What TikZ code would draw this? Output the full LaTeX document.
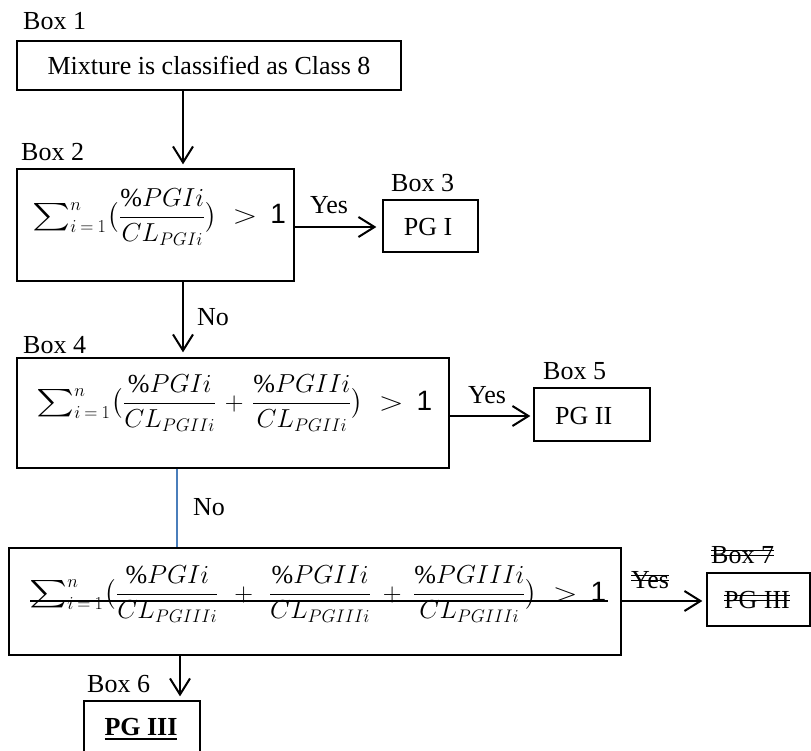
\RequirePackage{fix-cm}
\documentclass[tikz,border=0pt]{standalone}
\usepackage{amsmath}
\usepackage{graphicx}
\usepackage{fontspec}
\setmainfont{Liberation Serif}
\newfontfamily\arialf{Liberation Sans}
\usetikzlibrary{arrows.meta}
\definecolor{lnblue}{HTML}{4A7EBB}
\newsavebox\stkbox
\newcommand\dstk[1]{\sbox\stkbox{#1}\rlap{\rule[0.26em]{\wd\stkbox}{0.06em}}\rlap{\rule[0.45em]{\wd\stkbox}{0.06em}}\usebox\stkbox}
\newcommand\ulbold[1]{\sbox\stkbox{\bfseries #1}\rlap{\rule[-0.2em]{\wd\stkbox}{0.07em}}\usebox\stkbox}
\newcommand\bigsum{\mathop{\vcenter{\hbox{\scalebox{1.45}[1.1]{$\textstyle\sum$}}}}\nolimits}
\newcommand\fsum{\bigsum_{i\mkern4mu=\mkern4mu1}^{n}\mkern1mu}
\newcommand\pl[1]{\mkern#1mu+\mkern#1mu}
\newcommand\gtone{\mkern6mu\mathrel{\scalebox{1.25}[1]{$>$}}\mkern4mu\mbox{\arialf\fontsize{28}{30}\selectfont 1}}
\begin{document}
\begin{tikzpicture}[x=1pt,y=-1pt,
  every node/.style={font=\fontsize{26}{30}\selectfont, inner sep=0pt},
  boxs/.style={draw, line width=1.3pt},
  lbl/.style={anchor=base west},
  arr/.style={line width=2pt, -{Straight Barb[length=16pt,width=20pt,line width=2pt]}},
  blueline/.style={draw=lnblue, line width=1.2pt}]
\useasboundingbox (0,0) rectangle (811,751);
\clip (0,0) rectangle (811,751);
% vertical connector positions
\coordinate (a1) at (183,0);
\coordinate (a2) at (177,0);
\coordinate (a3) at (180,0);
% Box 1
\node[lbl] (l1) at (23,30) {Box 1};
\node[boxs, minimum width=384pt, minimum height=49pt] (b1) at (209,65.5) {Mixture is classified as Class 8};
% Box 2
\node[lbl] (l2) at (21,161) {Box 2};
\node[boxs, minimum width=277pt, minimum height=112pt] (b2) at (155.5,225) {};
\node[anchor=base west] (f2) at (32,224) {$\fsum\bigl(\dfrac{\%PGIi}{CL_{PGIi}}\bigr)\gtone$};
% Box 3
\node[lbl] (l3) at (391,192) {Box 3};
\node[boxs, minimum width=95pt, minimum height=52pt] (b3) at (430.5,226) {};
\node[anchor=base] (t3) at (428,236) {PG I};
\node[lbl] (y1) at (310,214) {Yes};
\node[lbl] (n1) at (197,325) {No};
% Box 4
\node[lbl] (l4) at (23,353) {Box 4};
\node[boxs, minimum width=432pt, minimum height=110pt] (b4) at (233,413) {};
\node[anchor=base west] (f4) at (36,410) {$\fsum\bigl(\dfrac{\%PGIi}{CL_{PGIIi}}\pl{2}\dfrac{\%PGIIi}{CL_{PGIIi}}\bigr)\gtone$};
% Box 5
\node[lbl] (l5) at (543,379) {Box 5};
\node[boxs, minimum width=116pt, minimum height=53pt] (b5) at (592,414.5) {};
\node[lbl] (t5) at (555,424) {PG II};
\node[lbl] (y2) at (468,403) {Yes};
\node[lbl] (n2) at (193,515) {No};
% bottom decision box
\node[boxs, minimum width=612pt, minimum height=107pt] (bb) at (315,601.5) {};
\node[anchor=base west] (f6) at (29,601) {$\fsum\bigl(\dfrac{\%PGIi}{CL_{PGIIIi}}\pl{7}\dfrac{\%PGIIi}{CL_{PGIIIi}}\pl{4}\dfrac{\%PGIIIi}{CL_{PGIIIi}}\bigr)\gtone$};
\coordinate (s1) at (30,601);
\coordinate (s2) at (608,601);
\draw[line width=1.8pt] (s1) -- (s2);
% Box 7 (struck)
\node[lbl] (l7) at (711,563) {\dstk{Box 7}};
\node[boxs, minimum width=103pt, minimum height=53pt] (b7) at (758.5,599.5) {};
\node[anchor=base] (t7) at (757,608) {\dstk{PG III}};
\node[lbl] (y3) at (631,588) {\dstk{Yes}};
% Box 6
\node[lbl] (l6) at (87,692) {Box 6};
\node[boxs, minimum width=116pt, minimum height=56pt] (b6) at (142,729) {};
\node[anchor=base] (t6) at (141,735) {\ulbold{PG III}};
% connectors
\draw[arr, shorten >=4pt] (b1.south -| a1) -- (b2.north -| a1);
\draw[arr, shorten >=6pt] (b2.east |- 0,227) -- (b3.west |- 0,227);
\draw[arr, shorten >=5pt] (b2.south -| a1) -- (b4.north -| a1);
\draw[arr, shorten >=3pt] (b4.east |- 0,416) -- (b5.west |- 0,416);
\draw[blueline] (b4.south -| a2) -- (bb.north -| a2);
\draw[arr, shorten >=4pt] (bb.east |- 0,601) -- (b7.west |- 0,601);
\draw[arr, shorten >=4pt] (bb.south -| a3) -- (b6.north -| a3);
\end{tikzpicture}
\end{document}
